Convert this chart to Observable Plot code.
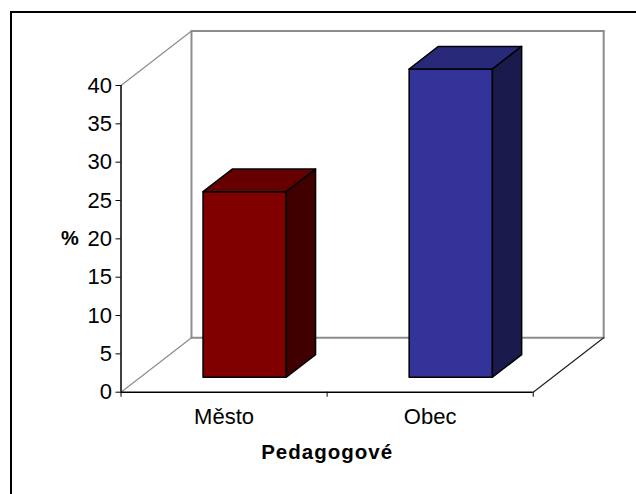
<!DOCTYPE html>
<html>
<head>
<meta charset="utf-8">
<script src="https://cdn.jsdelivr.net/npm/d3@7"></script>
<script src="https://cdn.jsdelivr.net/npm/@observablehq/plot@0.6"></script>
<style>
html,body{margin:0;padding:0;background:#fff;overflow:hidden}
#frame{position:absolute;left:10px;top:11px;right:0;bottom:0;border-left:2px solid #000;border-top:2px solid #000}
#chart{position:absolute;left:0;top:0}
svg{background:transparent!important}
</style>
</head>
<body>
<div id="frame"></div>
<div id="chart"></div>
<script>
const categories = ["Město", "Obec"];
const values = [24.2, 40.2];
const yTicks = [0, 5, 10, 15, 20, 25, 30, 35, 40];
const frontColors = ["#800000", "#333399"];
const topColors = ["#660000", "#29297a"];
const sideColors = ["#400000", "#1a1a4d"];
const xTitle = "Pedagogové";
const yTitle = "%";

// Oblique projection: u = category units, v = percent, w = depth 0..1
const depthU = 0.342, depthV = 7.1;
const P = (u, v, w) => ({x: u + w * depthU, y: v + w * depthV});
const poly = (pts, o) => Plot.line(pts.map(p => P(...p)), {x: "x", y: "y", curve: "linear-closed", ...o});
const seg = (a, b, o) => Plot.line([P(...a), P(...b)], {x: "x", y: "y", ...o});

const grey = {stroke: "#8c8c8c", strokeWidth: 1.2};
const wall = {stroke: "#8c8c8c", strokeWidth: 2};
const bar = {stroke: "#000", strokeWidth: 1.5, strokeLinejoin: "round"};
const gap = 0.304, bw = 0.404, w0 = 0.275, w1 = 0.69;

const barMarks = categories.flatMap((c, i) => {
  const a = i + gap, b = a + bw, v = values[i];
  return [
    poly([[a, 0, w0], [b, 0, w0], [b, v, w0], [a, v, w0]], {fill: frontColors[i], ...bar}),
    poly([[a, v, w0], [b, v, w0], [b, v, w1], [a, v, w1]], {fill: topColors[i], ...bar}),
    poly([[b, 0, w0], [b, 0, w1], [b, v, w1], [b, v, w0]], {fill: sideColors[i], ...bar})
  ];
});

const chart = Plot.plot({
  width: 636, height: 494,
  marginLeft: 120.5, marginRight: 103.3, marginTop: 85, marginBottom: 102.3,
  x: {type: "linear", domain: [0, 2]},
  y: {type: "linear", domain: [0, 40]},
  style: {fontFamily: "'Liberation Sans', Arial, sans-serif", fontSize: "22px", color: "#000", background: "transparent"},
  marks: [
    seg([0, 40, 1], [2, 40, 1], wall),
    seg([0, 0, 1], [0, 40, 1], wall),
    seg([2, 0, 1], [2, 40, 1], wall),
    seg([0, 0, 1], [2, 0, 1], wall),
    seg([0, 40, 0], [0, 40, 1], grey),
    seg([0, 0, 0], [0, 0, 1], grey),
    seg([2, 0, 0], [2, 0, 1], {stroke: "#222", strokeWidth: 1.2}),
    ...barMarks,
    Plot.ruleX([0], {y1: 0, y2: 40, stroke: "#000", strokeWidth: 1.5}),
    Plot.ruleY([0], {x1: 0, x2: 2, stroke: "#000", strokeWidth: 1.5}),
    Plot.axisY({ticks: yTicks, tickSize: 5, tickPadding: 4, fontSize: 22, label: null, tickFormat: d => String(d)}),
    Plot.axisX({ticks: [0, 1, 2], tickSize: 5, tickFormat: () => "", label: null}),
    Plot.axisX({ticks: [0.5, 1.5], tickSize: 0, tickPadding: 16, fontSize: 22, label: null, tickFormat: d => categories[Math.floor(d)]}),
    Plot.text([yTitle], {text: d => d, x: 0, y: 20, dx: -51, fontWeight: "bold", fontSize: 20}),
    Plot.text([xTitle], {text: d => d, x: 1, frameAnchor: "bottom", dy: 67, fontWeight: "bold", fontSize: 20.5})
  ]
});
d3.select(chart).selectAll("text").filter(function () { return this.textContent === xTitle; }).attr("letter-spacing", "1px");
document.getElementById("chart").appendChild(chart);
</script>
</body>
</html>
